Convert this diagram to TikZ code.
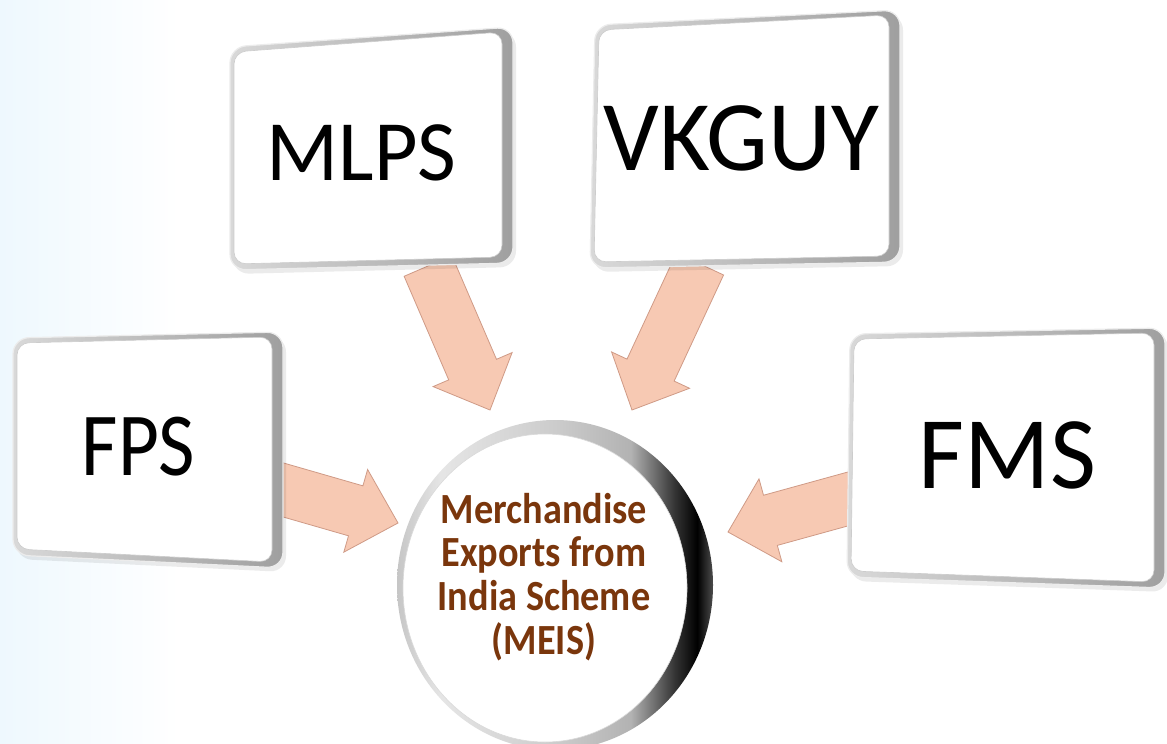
\documentclass[tikz,border=0pt]{standalone}
\usepackage{fontspec}
\setmainfont{Carlito}
\usetikzlibrary{calc}

\definecolor{peach}{HTML}{F7C9B3}
\definecolor{peachedge}{HTML}{CF9A86}
\definecolor{meisbrown}{HTML}{7A360C}
\definecolor{bgblue}{HTML}{EEF8FE}

% face of the disc: white centre, faint grey towards the edge
\pgfdeclareradialshading{discface}{\pgfpoint{0bp}{0bp}}{%
  color(0bp)=(white); color(36bp)=(white); color(45bp)=(gray!8); color(50bp)=(gray!24)}
% rim of the disc: light on the left, black on the right (bbox spans 25bp..75bp)
\pgfdeclarehorizontalshading{discrim}{100bp}{%
  color(0bp)=(gray!45); color(25bp)=(gray!45); color(32bp)=(gray!20); color(50bp)=(gray!40);
  color(62bp)=(gray!60); color(69bp)=(black!80); color(72.5bp)=(black); color(75bp)=(black!70); color(100bp)=(black!70)}

\tikzset{
  boxlabel/.style={anchor=base, inner sep=0pt, text=black},
  blockarrow/.style={fill=peach, draw=peachedge, line width=0.8pt, line join=miter},
}

% wide block arrow from #1 (tail) to #2 (tip)
\newcommand\blockarrow[2]{%
  \coordinate (ah) at ($(#2)!44pt!(#1)$);
  \path[blockarrow] ($(#1)!26pt!90:(#2)$) -- ($(ah)!26pt!-90:(#1)$)
    -- ($(ah)!43pt!-90:(#1)$) -- (#2) -- ($(ah)!43pt!90:(#1)$)
    -- ($(ah)!26pt!90:(#1)$) -- ($(#1)!26pt!-90:(#2)$) -- cycle;
}

% bevelled tile with corners (#1-tl), (#1-tr), (#1-br), (#1-bl)
\newcommand\bevelbox[1]{%
  \fill[black, opacity=0.08, rounded corners=16pt]
    ($(#1-tl)+(3,4)$) -- ($(#1-tr)+(3,4)$) -- ($(#1-br)+(3,4)$) -- ($(#1-bl)+(3,4)$) -- cycle;
  \shade[left color=gray!30, right color=gray!75, rounded corners=16pt]
    (#1-tl) -- (#1-tr) -- (#1-br) -- (#1-bl) -- cycle;
  \draw[gray!15, line width=1.2pt, rounded corners=16pt]
    (#1-tl) -- (#1-tr) -- (#1-br) -- (#1-bl) -- cycle;
  \filldraw[fill=white, draw=gray!40, line width=0.6pt, rounded corners=12pt]
    ($(#1-tl)+(4,5)$) -- ($(#1-tr)+(-11,5)$) -- ($(#1-br)+(-11,-6)$) -- ($(#1-bl)+(4,-6)$) -- cycle;
}

\begin{document}
\begin{tikzpicture}[x=1pt, y=-1pt]
\useasboundingbox (0,0) rectangle (1167,744);

% page background
\fill[white] (0,0) rectangle (1167,744);
\shade[left color=bgblue, right color=white] (0,0) rectangle (180,744);

% tile corners
\coordinate (fps-tl) at (13,338);   \coordinate (fps-tr) at (283,332);
\coordinate (fps-br) at (283,568);  \coordinate (fps-bl) at (13,555);
\coordinate (mlps-tl) at (230,47);  \coordinate (mlps-tr) at (513,27);
\coordinate (mlps-br) at (513,263); \coordinate (mlps-bl) at (230,270);
\coordinate (vk-tl) at (595,25);    \coordinate (vk-tr) at (900,10);
\coordinate (vk-br) at (900,262);   \coordinate (vk-bl) at (590,268);
\coordinate (fms-tl) at (850,334);  \coordinate (fms-tr) at (1165,328);
\coordinate (fms-br) at (1165,588); \coordinate (fms-bl) at (847,577);

% arrow ends
\coordinate (fps-tail) at (273,487);  \coordinate (fps-tip) at (398,523);
\coordinate (mlps-tail) at (428,266); \coordinate (mlps-tip) at (490,410);
\coordinate (vk-tail) at (700,264);   \coordinate (vk-tip) at (632,410);
\coordinate (fms-tail) at (855,497);  \coordinate (fms-tip) at (728,532);

% arrows into the centre
\blockarrow{fps-tail}{fps-tip}
\blockarrow{mlps-tail}{mlps-tip}
\blockarrow{vk-tail}{vk-tip}
\blockarrow{fms-tail}{fms-tip}

% tiles
\bevelbox{fps}
\bevelbox{mlps}
\bevelbox{vk}
\bevelbox{fms}

% central disc: dark rim, then the white face
\shade[shading=discrim] (555,585) ellipse [x radius=158pt, y radius=165pt];
\shade[shading=discface] (545,588) ellipse [x radius=142pt, y radius=154pt];
\draw[gray!30, line width=0.6pt] (545,588) ellipse [x radius=142pt, y radius=154pt];

% labels
\node[boxlabel] (fps) at (138.5,475) {\fontsize{90}{90}\selectfont\scalebox{0.88}[1]{FPS}};
\node[boxlabel] (mlps) at (361.5,180) {\fontsize{86}{86}\selectfont\scalebox{0.98}[1]{MLPS}};
\node[boxlabel] (vk) at (741.5,170) {\fontsize{100}{100}\selectfont\scalebox{0.98}[1]{VKGUY}};
\node[boxlabel] (fms) at (1007.5,488) {\fontsize{103}{103}\selectfont\scalebox{0.97}[1]{FMS}};

\node[anchor=base, inner sep=0pt, text=meisbrown, font=\bfseries] (meis) at (544,523)
  {\fontsize{43}{43.5}\selectfont\scalebox{0.89}[1]{%
   \begin{tabular}[t]{@{}c@{}}Merchandise\\Exports from\\India Scheme\\(MEIS)\end{tabular}}};
\end{tikzpicture}
\end{document}
